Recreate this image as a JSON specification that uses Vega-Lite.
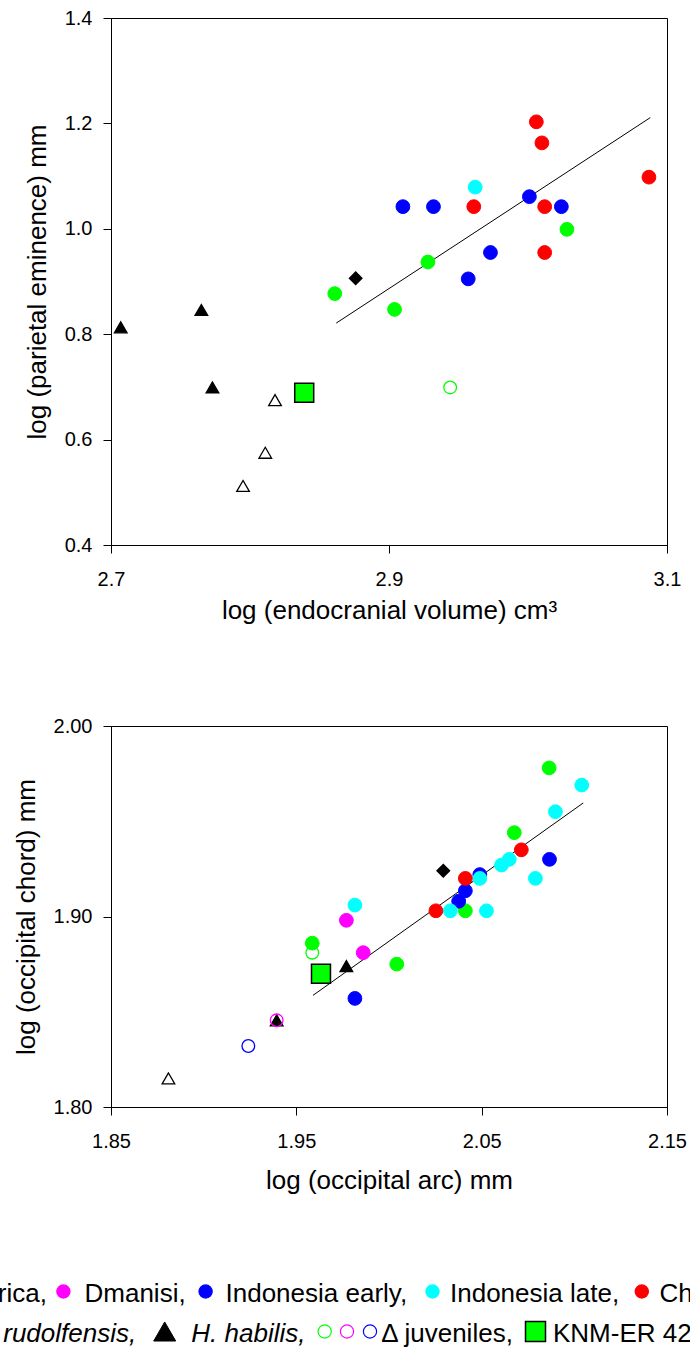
{
  "$schema": "https://vega.github.io/schema/vega-lite/v6.json",
  "padding": {"left": -61, "right": -42, "top": 7, "bottom": 0},
  "bounds": "flush",
  "spacing": 181,
  "config": {
    "font": "Liberation Sans",
    "view": {"stroke": "black", "strokeWidth": 1},
    "axis": {
      "labelFont": "Liberation Sans", "titleFont": "Liberation Sans",
      "labelFontSize": 20, "titleFontSize": 26, "titleFontWeight": "normal",
      "labelColor": "black", "titleColor": "black",
      "domainColor": "black", "tickColor": "black", "domainWidth": 1, "tickWidth": 1,
      "grid": false, "tickSize": 8, "labelFlush": false, "labelOverlap": false
    },
    "axisX": {"labelPadding": 16},
    "axisY": {"labelPadding": 11, "titlePadding": 14}
  },
  "datasets": {
    "pts": [
      {"panel": "parietal", "group": "Africa", "x": 3.028, "y": 0.999},
      {"panel": "parietal", "group": "Africa", "x": 2.928, "y": 0.937},
      {"panel": "parietal", "group": "Africa", "x": 2.861, "y": 0.877},
      {"panel": "parietal", "group": "Africa", "x": 2.904, "y": 0.847},
      {"panel": "parietal", "group": "Indonesia early", "x": 3.001, "y": 1.061},
      {"panel": "parietal", "group": "Indonesia early", "x": 2.910, "y": 1.042},
      {"panel": "parietal", "group": "Indonesia early", "x": 2.932, "y": 1.042},
      {"panel": "parietal", "group": "Indonesia early", "x": 3.024, "y": 1.042},
      {"panel": "parietal", "group": "Indonesia early", "x": 2.973, "y": 0.955},
      {"panel": "parietal", "group": "Indonesia early", "x": 2.957, "y": 0.905},
      {"panel": "parietal", "group": "Indonesia late", "x": 2.962, "y": 1.079},
      {"panel": "parietal", "group": "China", "x": 3.006, "y": 1.203},
      {"panel": "parietal", "group": "China", "x": 3.010, "y": 1.163},
      {"panel": "parietal", "group": "China", "x": 3.087, "y": 1.098},
      {"panel": "parietal", "group": "China", "x": 2.961, "y": 1.042},
      {"panel": "parietal", "group": "China", "x": 3.012, "y": 1.042},
      {"panel": "parietal", "group": "China", "x": 3.012, "y": 0.955},
      {"panel": "parietal", "group": "H. rudolfensis", "x": 2.876, "y": 0.906},
      {"panel": "parietal", "group": "H. habilis", "x": 2.765, "y": 0.846},
      {"panel": "parietal", "group": "H. habilis", "x": 2.707, "y": 0.813},
      {"panel": "parietal", "group": "H. habilis", "x": 2.773, "y": 0.699},
      {"panel": "parietal", "group": "H. habilis juvenile", "x": 2.818, "y": 0.675},
      {"panel": "parietal", "group": "H. habilis juvenile", "x": 2.811, "y": 0.575},
      {"panel": "parietal", "group": "H. habilis juvenile", "x": 2.795, "y": 0.512},
      {"panel": "parietal", "group": "Africa juvenile", "x": 2.944, "y": 0.699},
      {"panel": "parietal", "group": "KNM-ER 42700", "x": 2.839, "y": 0.689},

      {"panel": "occipital", "group": "Africa", "x": 2.0864, "y": 1.978},
      {"panel": "occipital", "group": "Africa", "x": 2.0676, "y": 1.944},
      {"panel": "occipital", "group": "Africa", "x": 2.0412, "y": 1.903},
      {"panel": "occipital", "group": "Africa", "x": 1.9586, "y": 1.886},
      {"panel": "occipital", "group": "Africa", "x": 2.0042, "y": 1.875},
      {"panel": "occipital", "group": "Dmanisi", "x": 1.977, "y": 1.898},
      {"panel": "occipital", "group": "Dmanisi", "x": 1.9861, "y": 1.881},
      {"panel": "occipital", "group": "Indonesia early", "x": 2.0866, "y": 1.930},
      {"panel": "occipital", "group": "Indonesia early", "x": 2.049, "y": 1.922},
      {"panel": "occipital", "group": "Indonesia early", "x": 2.0412, "y": 1.9135},
      {"panel": "occipital", "group": "Indonesia early", "x": 2.0376, "y": 1.908},
      {"panel": "occipital", "group": "Indonesia early", "x": 1.9816, "y": 1.857},
      {"panel": "occipital", "group": "Indonesia late", "x": 2.104, "y": 1.969},
      {"panel": "occipital", "group": "Indonesia late", "x": 2.0898, "y": 1.955},
      {"panel": "occipital", "group": "Indonesia late", "x": 2.0649, "y": 1.930},
      {"panel": "occipital", "group": "Indonesia late", "x": 2.0607, "y": 1.927},
      {"panel": "occipital", "group": "Indonesia late", "x": 2.049, "y": 1.920},
      {"panel": "occipital", "group": "Indonesia late", "x": 2.079, "y": 1.920},
      {"panel": "occipital", "group": "Indonesia late", "x": 2.0331, "y": 1.903},
      {"panel": "occipital", "group": "Indonesia late", "x": 2.0526, "y": 1.903},
      {"panel": "occipital", "group": "Indonesia late", "x": 1.9816, "y": 1.906},
      {"panel": "occipital", "group": "China", "x": 2.0714, "y": 1.935},
      {"panel": "occipital", "group": "China", "x": 2.0412, "y": 1.920},
      {"panel": "occipital", "group": "China", "x": 2.0253, "y": 1.903},
      {"panel": "occipital", "group": "H. rudolfensis", "x": 2.0293, "y": 1.924},
      {"panel": "occipital", "group": "H. habilis", "x": 1.977, "y": 1.874},
      {"panel": "occipital", "group": "H. habilis", "x": 1.9394, "y": 1.8455},
      {"panel": "occipital", "group": "Africa juvenile", "x": 1.9586, "y": 1.881},
      {"panel": "occipital", "group": "Dmanisi juvenile", "x": 1.9394, "y": 1.8455},
      {"panel": "occipital", "group": "Indonesia juvenile", "x": 1.9241, "y": 1.832},
      {"panel": "occipital", "group": "H. habilis juvenile", "x": 1.881, "y": 1.815},
      {"panel": "occipital", "group": "KNM-ER 42700", "x": 1.9633, "y": 1.870}
    ],
    "fits": [
      {"panel": "parietal", "x": 2.862, "y": 0.821},
      {"panel": "parietal", "x": 3.088, "y": 1.211},
      {"panel": "occipital", "x": 1.959, "y": 1.8586},
      {"panel": "occipital", "x": 2.1048, "y": 1.9596}
    ],
    "key": [
      {"line": 1, "pos": -50.7, "group": "Africa"},
      {"line": 1, "pos": -29.7, "label": "Africa,", "latin": false},
      {"line": 1, "pos": 60.4, "group": "Dmanisi"},
      {"line": 1, "pos": 81.5, "label": "Dmanisi,", "latin": false},
      {"line": 1, "pos": 202.6, "group": "Indonesia early"},
      {"line": 1, "pos": 222.5, "label": "Indonesia early,", "latin": false},
      {"line": 1, "pos": 429.5, "group": "Indonesia late"},
      {"line": 1, "pos": 447, "label": "Indonesia late,", "latin": false},
      {"line": 1, "pos": 638.8, "group": "China"},
      {"line": 1, "pos": 656.4, "label": "China", "latin": false},
      {"line": 2, "pos": -54, "group": "H. rudolfensis"},
      {"line": 2, "pos": -33, "label": "H. rudolfensis,", "latin": true},
      {"line": 2, "pos": 161.7, "group": "H. habilis"},
      {"line": 2, "pos": 188.3, "label": "H. habilis,", "latin": true},
      {"line": 2, "pos": 321.7, "group": "Africa juvenile"},
      {"line": 2, "pos": 344, "group": "Dmanisi juvenile"},
      {"line": 2, "pos": 367, "group": "Indonesia juvenile"},
      {"line": 2, "pos": 378.3, "label": "Δ juveniles,", "latin": false},
      {"line": 2, "pos": 532.5, "group": "KNM-ER 42700"},
      {"line": 2, "pos": 550, "label": "KNM-ER 42700", "latin": false}
    ]
  },
  "vconcat": [
    {
      "width": 556,
      "height": 527,
      "encoding": {
        "x": {"field": "x", "type": "quantitative",
          "scale": {"domain": [2.7, 3.1], "nice": false, "zero": false},
          "axis": {"values": [2.7, 2.9, 3.1], "format": ".1f", "title": "log (endocranial volume) cm³", "titlePadding": 8}},
        "y": {"field": "y", "type": "quantitative",
          "scale": {"domain": [0.4, 1.4], "nice": false, "zero": false},
          "axis": {"values": [0.4, 0.6, 0.8, 1.0, 1.2, 1.4], "format": ".1f", "title": "log  (parietal eminence) mm"}}
      },
      "layer": [
        {"data": {"name": "fits"}, "transform": [{"filter": "datum.panel === 'parietal'"}],
         "mark": {"type": "line", "color": "black", "strokeWidth": 1}},
        {"data": {"name": "pts"},
         "transform": [{"filter": "datum.panel === 'parietal' && indexof(['Africa','Dmanisi','Indonesia early','Indonesia late','China'], datum.group) >= 0"}],
         "mark": {"type": "point", "opacity": 1, "size": 190, "strokeWidth": 1},
         "encoding": {
           "fill": {"field": "group", "type": "nominal", "legend": null, "scale": {"domain": ["Africa","Dmanisi","Indonesia early","Indonesia late","China","H. rudolfensis","H. habilis","Africa juvenile","Dmanisi juvenile","Indonesia juvenile","H. habilis juvenile","KNM-ER 42700"], "range": ["#00ff00","#ff00ff","#0000ff","#00ffff","#ff0000","#000000","#000000","transparent","transparent","transparent","transparent","#00ff00"]}},
           "stroke": {"field": "group", "type": "nominal", "legend": null, "scale": {"domain": ["Africa","Dmanisi","Indonesia early","Indonesia late","China","H. rudolfensis","H. habilis","Africa juvenile","Dmanisi juvenile","Indonesia juvenile","H. habilis juvenile","KNM-ER 42700"], "range": ["#00ff00","#ff00ff","#0000ff","#00ffff","#ff0000","#000000","#000000","#00ff00","#ff00ff","#0000ff","#000000","#000000"]}},
           "shape": {"field": "group", "type": "nominal", "legend": null, "scale": {"domain": ["Africa","Dmanisi","Indonesia early","Indonesia late","China","H. rudolfensis","H. habilis","Africa juvenile","Dmanisi juvenile","Indonesia juvenile","H. habilis juvenile","KNM-ER 42700"], "range": ["circle","circle","circle","circle","circle","diamond","triangle-up","circle","circle","circle","triangle-up","square"]}}
         }},
        {"data": {"name": "pts"},
         "transform": [{"filter": "datum.panel === 'parietal' && indexof(['H. rudolfensis','H. habilis','Africa juvenile','Dmanisi juvenile','Indonesia juvenile','H. habilis juvenile'], datum.group) >= 0"}],
         "mark": {"type": "point", "opacity": 1, "size": 160, "strokeWidth": 1.3},
         "encoding": {
           "fill": {"field": "group", "type": "nominal", "legend": null},
           "stroke": {"field": "group", "type": "nominal", "legend": null},
           "shape": {"field": "group", "type": "nominal", "legend": null}
         }},
        {"data": {"name": "pts"},
         "transform": [{"filter": "datum.panel === 'parietal' && datum.group === 'KNM-ER 42700'"}],
         "mark": {"type": "point", "opacity": 1, "size": 360, "strokeWidth": 1.5},
         "encoding": {
           "fill": {"field": "group", "type": "nominal", "legend": null},
           "stroke": {"field": "group", "type": "nominal", "legend": null},
           "shape": {"field": "group", "type": "nominal", "legend": null}
         }}
      ]
    },
    {
      "width": 556,
      "height": 381,
      "encoding": {
        "x": {"field": "x", "type": "quantitative",
          "scale": {"domain": [1.85, 2.15], "nice": false, "zero": false},
          "axis": {"values": [1.85, 1.95, 2.05, 2.15], "format": ".2f", "title": "log (occipital arc) mm", "titlePadding": 16}},
        "y": {"field": "y", "type": "quantitative",
          "scale": {"domain": [1.8, 2.0], "nice": false, "zero": false},
          "axis": {"values": [1.8, 1.9, 2.0], "format": ".2f", "title": "log  (occipital chord) mm"}}
      },
      "layer": [
        {"data": {"name": "fits"}, "transform": [{"filter": "datum.panel === 'occipital'"}],
         "mark": {"type": "line", "color": "black", "strokeWidth": 1}},
        {"data": {"name": "pts"},
         "transform": [{"filter": "datum.panel === 'occipital' && indexof(['Africa','Dmanisi','Indonesia early','Indonesia late','China'], datum.group) >= 0"}],
         "mark": {"type": "point", "opacity": 1, "size": 190, "strokeWidth": 1},
         "encoding": {
           "fill": {"field": "group", "type": "nominal", "legend": null},
           "stroke": {"field": "group", "type": "nominal", "legend": null},
           "shape": {"field": "group", "type": "nominal", "legend": null}
         }},
        {"data": {"name": "pts"},
         "transform": [{"filter": "datum.panel === 'occipital' && indexof(['H. rudolfensis','H. habilis','Africa juvenile','Dmanisi juvenile','Indonesia juvenile','H. habilis juvenile'], datum.group) >= 0"}],
         "mark": {"type": "point", "opacity": 1, "size": 160, "strokeWidth": 1.3},
         "encoding": {
           "fill": {"field": "group", "type": "nominal", "legend": null},
           "stroke": {"field": "group", "type": "nominal", "legend": null},
           "shape": {"field": "group", "type": "nominal", "legend": null}
         }},
        {"data": {"name": "pts"},
         "transform": [{"filter": "datum.panel === 'occipital' && datum.group === 'KNM-ER 42700'"}],
         "mark": {"type": "point", "opacity": 1, "size": 360, "strokeWidth": 1.5},
         "encoding": {
           "fill": {"field": "group", "type": "nominal", "legend": null},
           "stroke": {"field": "group", "type": "nominal", "legend": null},
           "shape": {"field": "group", "type": "nominal", "legend": null}
         }}
      ]
    },
    {
      "width": 556,
      "height": 47,
      "view": {"stroke": null},
      "data": {"name": "key"},
      "encoding": {
        "x": {"field": "pos", "type": "quantitative", "scale": {"domain": [108, 664], "nice": false, "zero": false}, "axis": null},
        "y": {"field": "line", "type": "ordinal", "scale": {"type": "point", "padding": 0.0875}, "axis": null}
      },
      "layer": [
        {"transform": [{"filter": "isValid(datum.group) && datum.group !== 'H. habilis' && datum.group !== 'KNM-ER 42700'"}],
         "mark": {"type": "point", "opacity": 1, "size": 175, "strokeWidth": 1.2},
         "encoding": {
           "fill": {"field": "group", "type": "nominal", "legend": null},
           "stroke": {"field": "group", "type": "nominal", "legend": null},
           "shape": {"field": "group", "type": "nominal", "legend": null}
         }},
        {"transform": [{"filter": "datum.group === 'H. habilis'"}],
         "mark": {"type": "point", "opacity": 1, "size": 484, "strokeWidth": 1},
         "encoding": {
           "fill": {"field": "group", "type": "nominal", "legend": null},
           "stroke": {"field": "group", "type": "nominal", "legend": null},
           "shape": {"field": "group", "type": "nominal", "legend": null}
         }},
        {"transform": [{"filter": "datum.group === 'KNM-ER 42700'"}],
         "mark": {"type": "point", "opacity": 1, "size": 400, "strokeWidth": 1.5},
         "encoding": {
           "fill": {"field": "group", "type": "nominal", "legend": null},
           "stroke": {"field": "group", "type": "nominal", "legend": null},
           "shape": {"field": "group", "type": "nominal", "legend": null}
         }},
        {"transform": [{"filter": "isValid(datum.label) && !datum.latin"}],
         "mark": {"type": "text", "align": "left", "baseline": "middle", "fontSize": 26, "font": "Liberation Sans", "dy": 2, "color": "black"},
         "encoding": {"text": {"field": "label", "type": "nominal"}}},
        {"transform": [{"filter": "isValid(datum.label) && datum.latin"}],
         "mark": {"type": "text", "align": "left", "baseline": "middle", "fontSize": 26, "font": "Liberation Sans", "fontStyle": "italic", "dy": 2, "color": "black"},
         "encoding": {"text": {"field": "label", "type": "nominal"}}}
      ]
    }
  ]
}
